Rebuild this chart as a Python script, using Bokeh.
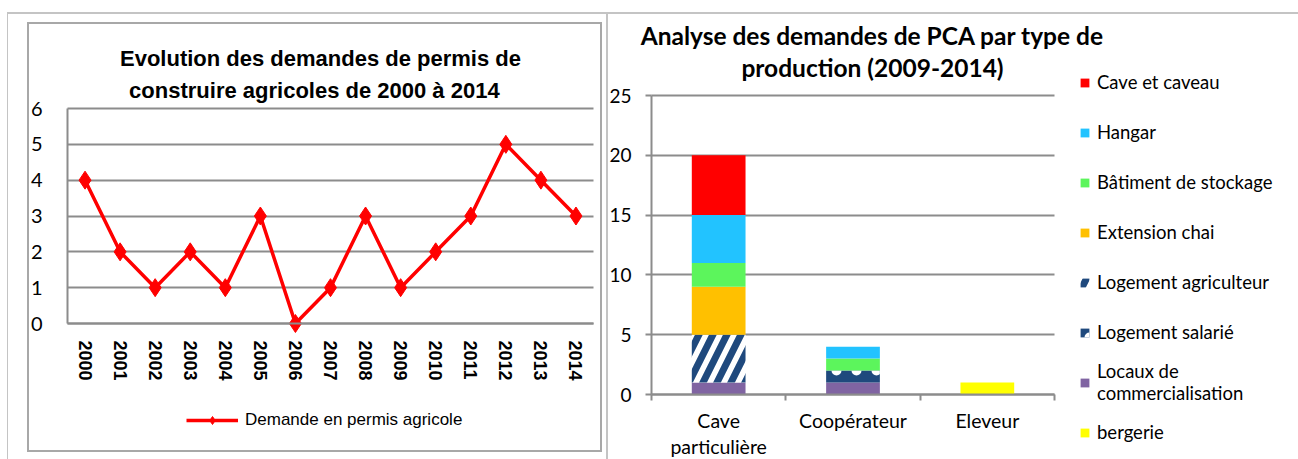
from bokeh.plotting import figure
from bokeh.models import (Range1d, Legend, LegendItem, Label, Grid,
                          FixedTicker, ColumnDataSource, InlineStyleSheet)
from bokeh.layouts import row
from bokeh.embed import file_html
from bokeh.resources import INLINE

# ---------------- data ----------------
years = ["2000", "2001", "2002", "2003", "2004", "2005", "2006", "2007",
         "2008", "2009", "2010", "2011", "2012", "2013", "2014"]
demandes = [4, 2, 1, 2, 1, 3, 0, 1, 3, 1, 2, 3, 5, 4, 3]
left_title = ["Evolution des demandes de permis de",
              "construire  agricoles  de 2000 à 2014"]
left_series = "Demande en permis agricole"
left_ticks = [0, 1, 2, 3, 4, 5, 6]

categories = ["Cave\nparticulière", "Coopérateur", "Eleveur"]
bergerie = [0, 0, 1]
locaux = [1, 1, 0]
logement_salarie = [0, 1, 0]
logement_agriculteur = [4, 0, 0]
extension_chai = [4, 0, 0]
batiment_stockage = [2, 1, 0]
hangar = [4, 1, 0]
cave_caveau = [5, 0, 0]
right_title = ["Analyse des demandes de PCA par type de",
               "production (2009-2014)"]
right_ticks = [0, 5, 10, 15, 20, 25]

ARIAL = "Liberation Sans"
CAL = "Lato"
GRID = "#8c8c8c"
H = 459
HAS_CROSS = "cross_bounds" in Grid.properties()


def bare_frame(p):
    p.outline_line_color = None
    p.min_border = 0
    p.background_fill_color = None
    p.border_fill_color = None


# ---------------- left chart (frame = whole canvas) ----------------
W1 = 606
css1 = InlineStyleSheet(css="""
:host { position: relative; }
:host::before { content: ""; position: absolute; left: 7px; top: 12px; right: 0px;
  bottom: -20px; border-left: 1px solid #c4c4c4; border-top: 2px solid #c4c4c4;
  pointer-events: none; z-index: 50; }
:host::after { content: ""; position: absolute; left: 27px; top: 22px; width: 575px;
  height: 430px; border: 2px solid #a8a8a8; pointer-events: none; z-index: 50; }
""")
n_years = len(years)
xpos1 = [i + 0.5 for i in range(n_years)]
ppx1 = (593 - 67) / n_years
ppy1 = (323 - 108) / 6
p1 = figure(width=W1, height=H,
            x_range=Range1d(-67 / ppx1, n_years + (W1 - 593) / ppx1),
            y_range=Range1d(-(H - 323) / ppy1, 6 + 108 / ppy1),
            output_backend="svg", toolbar_location=None, stylesheets=[css1])
bare_frame(p1)
p1.xgrid.grid_line_color = None
p1.ygrid.grid_line_color = GRID
p1.ygrid.grid_line_width = 2
if HAS_CROSS:
    p1.ygrid.cross_bounds = (0, n_years)
p1.yaxis.ticker = FixedTicker(ticks=left_ticks)
p1.yaxis.bounds = (left_ticks[0], left_ticks[-1])
p1.yaxis.fixed_location = 0
p1.xaxis.ticker = FixedTicker(ticks=xpos1)
p1.xaxis.major_label_overrides = {x: y for x, y in zip(xpos1, years)}
p1.xaxis.bounds = (0, n_years)
p1.xaxis.fixed_location = 0
for ax in (p1.xaxis[0], p1.yaxis[0]):
    ax.axis_line_color = GRID
    ax.axis_line_width = 2
    ax.major_tick_line_color = None
    ax.minor_tick_line_color = None
p1.yaxis.major_label_text_font = CAL
p1.yaxis.major_label_text_font_size = "20px"
p1.yaxis.major_label_text_color = "#000000"
p1.yaxis.major_label_standoff = 19
p1.xaxis.major_label_orientation = "vertical"
p1.xaxis.major_label_text_font = ARIAL
p1.xaxis.major_label_text_font_style = "bold"
p1.xaxis.major_label_text_font_size = "18px"
p1.xaxis.major_label_text_color = "#000000"
p1.xaxis.major_label_standoff = 11

ln = p1.line(xpos1, demandes, line_color="#FF0000", line_width=3.5)
sc = p1.scatter(xpos1, demandes, marker="diamond", size=18,
                fill_color="#FF0000", line_color="#FF0000")

for txt, sy in zip(left_title, [58, 90]):
    p1.add_layout(Label(x=(320 - 67) / ppx1, y=(323 - sy) / ppy1, text=txt,
                        text_align="center", text_baseline="middle",
                        text_font=ARIAL, text_font_style="bold",
                        text_font_size="22px", text_color="#000000"))

leg1 = Legend(items=[LegendItem(label=left_series, renderers=[ln, sc])],
              location=(186, H - 430), glyph_width=52, glyph_height=20,
              label_height=20, label_standoff=7, padding=0, margin=0,
              border_line_color=None, background_fill_alpha=0,
              label_text_font=ARIAL, label_text_font_size="17px",
              label_text_color="#000000")
p1.add_layout(leg1)

# ---------------- right chart (frame = whole canvas) ----------------
W2 = 692
X0 = 606  # page x of this figure
css2 = InlineStyleSheet(css="""
:host { position: relative; }
:host::before { content: ""; position: absolute; left: 0px; top: 12px; right: 0px;
  bottom: -20px; border-left: 2px solid #c4c4c4; border-top: 2px solid #c4c4c4;
  pointer-events: none; z-index: 50; }
""")
n_cat = len(categories)
xs = [i + 0.5 for i in range(n_cat)]
ppx2 = (1054 - 651) / n_cat
ppy2 = (394 - 95) / right_ticks[-1]
stack_names = ["bergerie", "Locaux de commercialisation", "Logement salarié",
               "Logement agriculteur", "Extension chai", "Bâtiment de stockage",
               "Hangar", "Cave et caveau"]
stack_values = [bergerie, locaux, logement_salarie, logement_agriculteur,
                extension_chai, batiment_stockage, hangar, cave_caveau]
fills = ["#FFFF00", "#8064A2", "#1F497D", "#FFFFFF", "#FFC000", "#5CF55C",
         "#22C3FF", "#FF0000"]

data = {"x": xs}
for n, v in zip(stack_names, stack_values):
    data[n] = v
src = ColumnDataSource(data)

p2 = figure(width=W2, height=H,
            x_range=Range1d(-(651 - X0) / ppx2, n_cat + (X0 + W2 - 1054) / ppx2),
            y_range=Range1d(-(H - 394) / ppy2, right_ticks[-1] + 95 / ppy2),
            output_backend="svg", toolbar_location=None, stylesheets=[css2])
bare_frame(p2)
p2.xgrid.grid_line_color = None
p2.ygrid.grid_line_color = GRID
p2.ygrid.grid_line_width = 2
if HAS_CROSS:
    p2.ygrid.cross_bounds = (0, n_cat)
p2.yaxis.ticker = FixedTicker(ticks=right_ticks)
p2.yaxis.bounds = (right_ticks[0], right_ticks[-1])
p2.yaxis.fixed_location = 0
p2.xaxis.ticker = FixedTicker(ticks=xs, minor_ticks=list(range(n_cat + 1)))
p2.xaxis.major_label_overrides = {x: c for x, c in zip(xs, categories)}
p2.xaxis.bounds = (0, n_cat)
p2.xaxis.fixed_location = 0
for ax in (p2.xaxis[0], p2.yaxis[0]):
    ax.axis_line_color = GRID
    ax.axis_line_width = 2
    ax.major_label_text_font = CAL
    ax.major_label_text_color = "#000000"
p2.yaxis.major_label_text_font_size = "19px"
p2.xaxis.major_label_text_font_size = "19.5px"
p2.xaxis.major_label_text_line_height = 1.15
p2.yaxis.major_tick_line_color = GRID
p2.yaxis.major_tick_line_width = 2
p2.yaxis.major_tick_out = 6
p2.yaxis.major_tick_in = 0
p2.yaxis.minor_tick_line_color = None
p2.yaxis.major_label_standoff = 14
p2.xaxis.major_tick_line_color = None
p2.xaxis.minor_tick_line_color = GRID
p2.xaxis.minor_tick_line_width = 2
p2.xaxis.minor_tick_out = 6
p2.xaxis.minor_tick_in = 0
p2.xaxis.major_label_standoff = 8

rends = p2.vbar_stack(stack_names, x="x", width=0.4, source=src,
                      fill_color=fills, line_color=None)
rmap = dict(zip(stack_names, rends))
g_agri = rmap["Logement agriculteur"].glyph
g_agri.hatch_pattern = "/"
g_agri.hatch_color = "#1F497D"
g_agri.hatch_weight = 7
g_agri.hatch_scale = 28
g_sal = rmap["Logement salarié"].glyph
g_sal.hatch_pattern = "dot"
g_sal.hatch_color = "#FFFFFF"
g_sal.hatch_weight = 1
g_sal.hatch_scale = 20

for txt, sy in zip(right_title, [35, 67]):
    p2.add_layout(Label(x=(872 - 651) / ppx2, y=(394 - sy) / ppy2, text=txt,
                        text_align="center", text_baseline="middle",
                        text_font=CAL, text_font_style="bold",
                        text_font_size="24.5px", text_color="#000000"))

leg_order = ["Cave et caveau", "Hangar", "Bâtiment de stockage", "Extension chai",
             "Logement agriculteur", "Logement salarié",
             "Locaux de commercialisation", "bergerie"]
leg_labels = {"Locaux de commercialisation": "Locaux de\ncommercialisation"}
leg2 = Legend(items=[LegendItem(label=leg_labels.get(n, n), renderers=[rmap[n]])
                     for n in leg_order],
              location=(1079 - X0, H - 457), glyph_width=11, glyph_height=11,
              label_height=50, spacing=0, padding=0, margin=0,
              border_line_color=None, background_fill_alpha=0,
              label_standoff=7, label_text_font=CAL, label_text_font_size="18.5px",
              label_text_color="#000000", label_text_line_height=1.35)
p2.add_layout(leg2)

layout = row(p1, p2, spacing=0)
open("out.html", "w").write(file_html(layout, INLINE))
